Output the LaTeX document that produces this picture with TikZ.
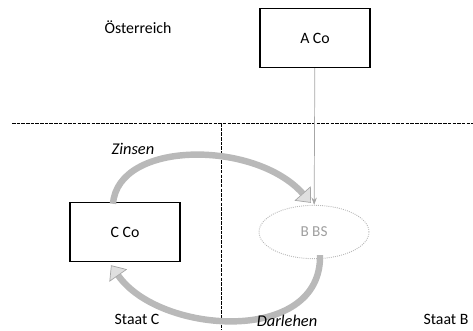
\documentclass[tikz,border=0pt]{standalone}
\usepackage{fontspec}
\setmainfont{Carlito}
\usepackage{tikz}
\usetikzlibrary{positioning, arrows.meta, shapes.geometric, calc}

\begin{document}
\begin{tikzpicture}[
    x=0.3mm, y=-0.3mm,
    company/.style={rectangle, draw=black, line width=1.2pt, minimum width=33mm,
                    minimum height=17.7mm, font=\fontsize{13.5}{16}\selectfont},
    branch/.style={ellipse, draw=gray!55, densely dotted, line width=0.8pt, minimum width=33mm,
                   minimum height=16mm, inner sep=0pt, text=gray!75,
                   font=\fontsize{13}{15}\selectfont},
    border/.style={line width=0.7pt, dash pattern=on 3pt off 1pt},
    flow/.style={line width=5.5pt, draw=gray!55,
                 -{Triangle[width=6.5mm, length=3.8mm, fill=gray!25, color=gray!70, line width=0.6pt]}},
    link/.style={gray!70, line width=0.6pt, -{Stealth[length=2.2mm, width=1.6mm]}},
    label/.style={font=\fontsize{13.5}{16}\selectfont},
    flowlabel/.style={font=\fontsize{14}{16}\selectfont\itshape}
]
    \useasboundingbox (0,0) rectangle (473,330);

    % Country borders
    \coordinate (hleft) at (12,123);
    \coordinate (hright) at (473,123);
    \coordinate (vtop) at (221,123);
    \coordinate (vbottom) at (221,330);
    \draw[border] (hleft) -- (hright);
    \draw[border] (vtop) -- (vbottom);

    % Countries
    \node[label] (at) at (138,27) {Österreich};
    \node[label] (stc) at (137,319) {Staat C};
    \node[label] (stb) at (446,319) {Staat B};

    % Companies
    \node[company] (aco) at (315,38) {A Co};
    \node[company] (cco) at (125,232) {C Co};
    \node[branch] (bbs) at (314,232) {B BS};

    % A Co holds B BS
    \draw[link] (aco) -- (bbs);

    % Interest and loan
    \coordinate (zstart) at ($(cco.north)+(-12,2)$);
    \coordinate (zend) at ($(bbs.north)+(-3,-2)$);
    \coordinate (dstart) at ($(bbs.south)+(6,-4)$);
    \coordinate (dend) at ($(cco.south)+(-14,3)$);
    \draw[flow] (zstart) .. controls (118,140) and (255,140) .. (zend);
    \draw[flow] (dstart) .. controls (322,345) and (160,335) .. (dend);

    \node[flowlabel] (zinsen) at (133,149) {Zinsen};
    \node[flowlabel] (darlehen) at (287,321) {Darlehen};
\end{tikzpicture}
\end{document}
